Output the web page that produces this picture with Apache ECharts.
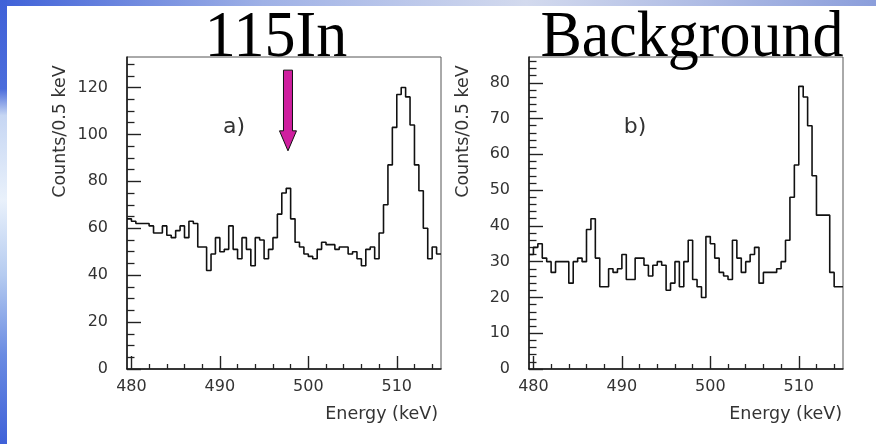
<!DOCTYPE html>
<html>
<head>
<meta charset="utf-8">
<script src="https://cdn.jsdelivr.net/npm/echarts@6/dist/echarts.min.js"></script>
<style>
  html, body { margin: 0; padding: 0; background: #ffffff; }
  #chart { width: 876px; height: 444px; }
</style>
</head>
<body>
<div id="chart"></div>
<script>
// Spectra binned in 0.5 keV steps; the first bin starts at 479.5 keV
const binLow = 479.5;
const binWidth = 0.5;
const energyMax = 515;

// a) 115In sample, counts per 0.5 keV
const countsIn115 = [
  64, 63, 62, 62, 62, 61, 58, 58, 61, 57,
  56, 59, 61, 56, 63, 62, 52, 52, 42, 49,
  56, 50, 51, 61, 51, 47, 56, 51, 44, 56,
  55, 47, 51, 56, 66, 75, 77, 64, 54, 52,
  49, 48, 47, 51, 54, 53, 53, 51, 52, 52,
  49, 50, 47, 44, 51, 52, 47, 58, 70, 87,
  103, 117, 120, 116, 104, 87, 76, 60, 47, 52, 49
];

// b) background run, counts per 0.5 keV
const countsBackground = [
  32, 34, 35, 31, 30, 27, 30, 30, 30, 24,
  30, 31, 30, 39, 42, 31, 23, 23, 28, 27,
  28, 32, 25, 25, 31, 31, 29, 26, 29, 30,
  29, 22, 24, 30, 23, 30, 36, 25, 23, 20,
  37, 35, 31, 27, 26, 25, 36, 31, 27, 30,
  32, 34, 24, 27, 27, 27, 28, 30, 36, 48,
  57, 79, 76, 68, 54, 43, 43, 43, 27, 23, 23
];

// Axis ticks and labels
const energyTicks = [480, 490, 500, 510];
const energyMinorTicks = [482, 484, 486, 488, 492, 494, 496, 498, 502, 504, 506, 508, 512, 514];
const countTicksA = [0, 20, 40, 60, 80, 100, 120];
const countTicksB = [0, 10, 20, 30, 40, 50, 60, 70, 80];
const countMaxA = 133;
const countMaxB = 87.2;

const panelTitles = ['115In', 'Background'];
const panelTags = ['a)', 'b)'];
const xTitle = 'Energy (keV)';
const yTitle = 'Counts/0.5 keV';

// Arrow marking the 115In line (energy, tip count, tail count)
const arrowEnergy = 497.7;
const arrowTipCount = 93;
const arrowTailCount = 127.4;

function stepRange(start, stop, step, skipEvery) {
  const out = [];
  for (let v = start; v <= stop + 1e-9; v += step) {
    if (skipEvery && Math.abs(v / skipEvery - Math.round(v / skipEvery)) < 1e-9) continue;
    out.push(+v.toFixed(3));
  }
  return out;
}
const countMinorA = stepRange(5, 130, 5, 20);
const countMinorB = stepRange(2, 86, 2, 10);

// Histogram outline: one point per bin left edge, plus the closing right edge
function histogramPoints(counts) {
  const pts = counts.map((c, i) => [binLow + i * binWidth, c]);
  pts.push([binLow + counts.length * binWidth, counts[counts.length - 1]]);
  return pts;
}

const FONT = 'DejaVu Sans';
const TEXT = '#333333';

const frames = [
  { left: 127, top: 57, width: 314, height: 312 },
  { left: 529, top: 57, width: 314, height: 312 }
];

function xAxes(gridIndex) {
  return [
    {
      type: 'value', gridIndex, min: binLow, max: energyMax, position: 'bottom',
      axisLine: { show: true, onZero: false, lineStyle: { color: '#111', width: 1.5 } },
      axisTick: { show: true, inside: true, length: 13, customValues: energyTicks,
                  lineStyle: { color: '#222', width: 1.4 } },
      axisLabel: { show: true, customValues: energyTicks, margin: 10,
                   fontFamily: FONT, fontSize: 16, color: TEXT },
      splitLine: { show: false }
    },
    {
      type: 'value', gridIndex, min: binLow, max: energyMax, position: 'bottom',
      axisLine: { show: false },
      axisTick: { show: true, inside: true, length: 5, customValues: energyMinorTicks,
                  lineStyle: { color: '#222', width: 1.3 } },
      axisLabel: { show: false },
      splitLine: { show: false }
    }
  ];
}

function yAxes(gridIndex, max, major, minor) {
  return [
    {
      type: 'value', gridIndex, min: 0, max, position: 'left',
      axisLine: { show: true, onZero: false, lineStyle: { color: '#111', width: 1.5 } },
      axisTick: { show: true, inside: true, length: 14, customValues: major,
                  lineStyle: { color: '#222', width: 1.4 } },
      axisLabel: { show: true, customValues: major, margin: 19,
                   fontFamily: FONT, fontSize: 16, color: TEXT },
      splitLine: { show: false }
    },
    {
      type: 'value', gridIndex, min: 0, max, position: 'left',
      axisLine: { show: false },
      axisTick: { show: true, inside: true, length: 7.5, customValues: minor,
                  lineStyle: { color: '#222', width: 1.3 } },
      axisLabel: { show: false },
      splitLine: { show: false }
    }
  ];
}

const chart = echarts.init(document.getElementById('chart'), null, { renderer: 'canvas' });

function textEl(text, x, y, opts) {
  return Object.assign({
    type: 'text', x, y, z: 50, silent: true,
    style: Object.assign({
      text, fill: TEXT, font: '17.5px "' + FONT + '"',
      align: 'center', verticalAlign: 'middle'
    }, opts && opts.style)
  }, opts && opts.el);
}

const titleStyle = { fill: '#000', font: '62px "Liberation Serif"' };

const decorations = [
  // slide edge bands
  { type: 'rect', z: -10, silent: true, shape: { x: 0, y: 0, width: 876, height: 6 },
    style: { fill: new echarts.graphic.LinearGradient(0, 0, 1, 0, [
      { offset: 0, color: '#3f61d8' }, { offset: 0.3, color: '#9fb1e6' },
      { offset: 0.6, color: '#d3daee' }, { offset: 1, color: '#8b9edb' }]) } },
  { type: 'rect', z: -10, silent: true, shape: { x: 0, y: 0, width: 7, height: 444 },
    style: { fill: new echarts.graphic.LinearGradient(0, 0, 0, 1, [
      { offset: 0, color: '#3f61d8' }, { offset: 0.2, color: '#4b6cdb' },
      { offset: 0.26, color: '#c6d6f3' }, { offset: 0.45, color: '#e9f1fb' },
      { offset: 0.62, color: '#b5cbf0' }, { offset: 0.8, color: '#6a8be2' },
      { offset: 1, color: '#3f61d8' }]) } },
  // panel titles
  textEl(panelTitles[0], 276, 39, { style: titleStyle, el: { z: 60, scaleY: 1.06 } }),
  textEl(panelTitles[1], 692, 39, { style: titleStyle, el: { z: 60, scaleY: 1.06 } }),
  // axis titles
  textEl(yTitle, 60, 131.5, { el: { rotation: Math.PI / 2 } }),
  textEl(yTitle, 463, 131.5, { el: { rotation: Math.PI / 2 } }),
  textEl(xTitle, 438, 414, { style: { align: 'right' } }),
  textEl(xTitle, 842, 414, { style: { align: 'right' } }),
  // panel tags
  textEl(panelTags[0], 234, 127, { style: { font: '22px "' + FONT + '"' } }),
  textEl(panelTags[1], 635, 127, { style: { font: '22px "' + FONT + '"' } })
];

chart.setOption({
  animation: false,
  backgroundColor: '#ffffff',
  grid: frames.map(f => Object.assign({ show: true, borderColor: '#555', borderWidth: 1,
                                        backgroundColor: 'transparent' }, f)),
  xAxis: [...xAxes(0), ...xAxes(1)],
  yAxis: [...yAxes(0, countMaxA, countTicksA, countMinorA),
          ...yAxes(1, countMaxB, countTicksB, countMinorB)],
  series: [
    { name: panelTitles[0], type: 'line', step: 'end', xAxisIndex: 0, yAxisIndex: 0,
      symbol: 'none', data: histogramPoints(countsIn115),
      lineStyle: { color: '#111', width: 1.6 } },
    { name: panelTitles[1], type: 'line', step: 'end', xAxisIndex: 2, yAxisIndex: 2,
      symbol: 'none', data: histogramPoints(countsBackground),
      lineStyle: { color: '#111', width: 1.6 } }
  ],
  graphic: decorations
});

// Downward arrow over the 115In line, placed in data coordinates
const tip = chart.convertToPixel({ seriesIndex: 0 }, [arrowEnergy, arrowTipCount]);
const tail = chart.convertToPixel({ seriesIndex: 0 }, [arrowEnergy, arrowTailCount]);
const shaftHalf = 4.5, headHalf = 8.5, headLen = 20;
const cx = tip[0];
const arrow = {
  type: 'polygon', z: 40, silent: true,
  shape: { points: [
    [cx - shaftHalf, tail[1]], [cx + shaftHalf, tail[1]],
    [cx + shaftHalf, tip[1] - headLen], [cx + headHalf, tip[1] - headLen],
    [cx, tip[1]],
    [cx - headHalf, tip[1] - headLen], [cx - shaftHalf, tip[1] - headLen]
  ] },
  style: { fill: '#cf1f9f', stroke: '#111', lineWidth: 1 }
};
chart.setOption({ graphic: [...decorations, arrow] });
</script>
</body>
</html>
